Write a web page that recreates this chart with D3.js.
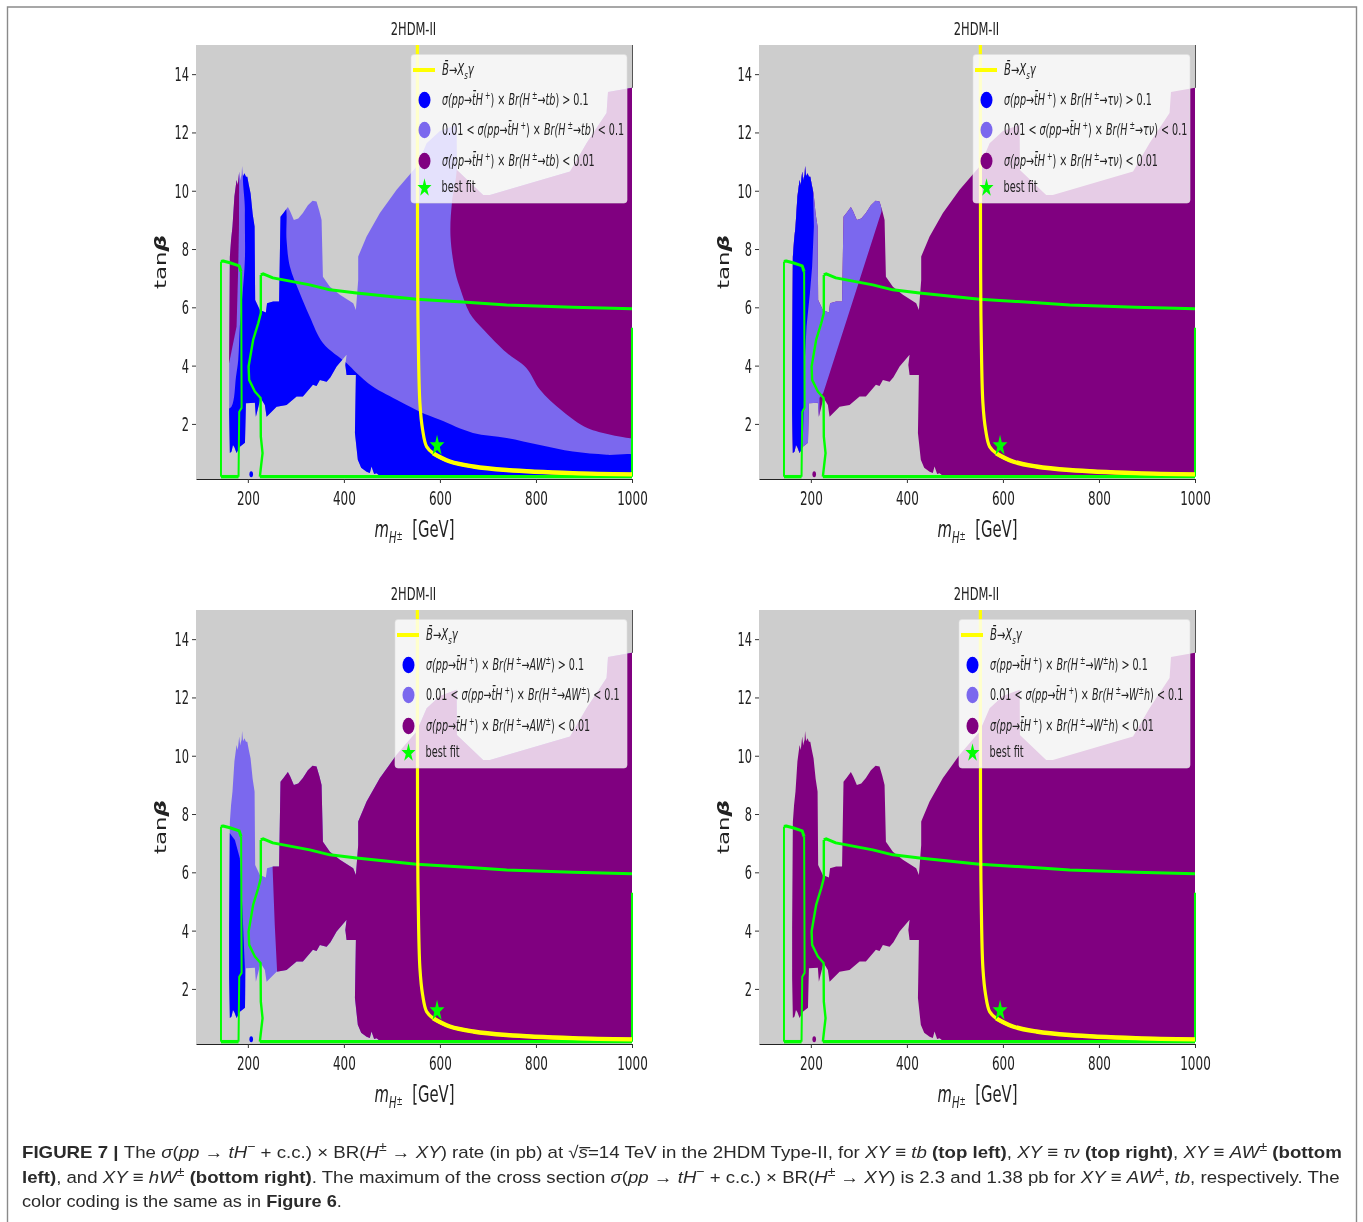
<!DOCTYPE html>
<html><head><meta charset="utf-8">
<style>html,body{margin:0;padding:0;background:#fff}svg{display:block;filter:blur(.45px)}text{white-space:pre}</style>
<script src="https://cdnjs.cloudflare.com/ajax/libs/d3/7.8.5/d3.min.js"></script>
</head><body><svg id="fig" width="1363" height="1222"></svg>
<script>
// ---------- values: [mass GeV, tan beta] ----------
const xTicks=[200,400,600,800,1000];
const yTicks=[2,4,6,8,10,12,14];
const xDomain=[92,1000], yDomain=[0.11,15];
const bestFit=[594,1.25];
const strayPoint=[207,0.27];

const regionOutline=[[161,2.38],[161,4.09],[162.5,7.73],[165,8.3],[168,8.77],[172,9.8],[176.5,10.37],[179,10.2],[182,10.66],[184,10.35],[185,10.44],[187,10.55],[188,10.85],[190,10.5],[193,10.6],[196,10.48],[198.8,10.48],[202,10.2],[205.6,9.91],[210,9.2],[214,8.77],[215.2,6.25],[225,5.91],[237.5,5.82],[240,6.14],[252.7,6.2],[265,6.2],[268,9.11],[275,9.25],[283.3,9.44],[288,9.3],[295.8,9.0],[305,9.05],[314.6,9.24],[325,9.5],[334.8,9.66],[343,9.63],[349,9.3],[353.5,9.0],[356.3,7.05],[370.8,6.71],[391.7,6.43],[419.4,6.14],[425,5.91],[429.8,6.94],[429.8,7.74],[447.3,8.43],[475,9.24],[509.8,10.03],[551.5,10.83],[572.3,11.63],[600,12.05],[634.8,12.26],[635.4,10.71],[690,9.85],[704,9.85],[871,10.66],[905.6,11.64],[947,12.67],[950,13.39],[1000,13.53],[1000,0.15],[480,0.15],[468,0.31],[463,0.28],[457.5,0.54],[454,0.32],[447.3,0.36],[436,0.5],[429,0.77],[423,1.69],[425,3.68],[405.6,3.68],[403,4.02],[405.6,4.37],[384.8,3.97],[372,3.6],[364,3.45],[350,3.51],[343,3.3],[335.5,3.34],[314.6,2.94],[301.5,2.94],[280.6,2.65],[259.8,2.59],[239,2.25],[235.4,2.65],[226.5,2.89],[216.7,2.25],[214.6,2.73],[196,2.71],[194,1.35],[183.3,1.22],[176.5,1.0],[172,1.2],[169,1.28],[166,1.05],[162.5,1.0]];

const tbPurple=[[635,16],[635,10.71],[625,9.6],[622,8.45],[632,7.2],[643,6.6],[662,5.8],[690,5.25],[739,4.44],[780,3.92],[808,3.18],[855,2.44],[908,1.85],[1000,1.5],[1010,1.5],[1010,16]];
const tbBlue=[[150,0],[150,2.4],[166,2.6],[175.3,3.62],[180,4.2],[183.3,5.34],[189,6.49],[193.8,7.63],[193.8,9.34],[196,10.9],[240,10.9],[266,9.5],[277,9.5],[280.6,8.31],[287.5,7.4],[308,6.49],[329,5.68],[356.3,4.78],[405.6,4.09],[426.4,3.75],[460,3.28],[516.7,2.77],[558.3,2.42],[600,2.14],[668.8,1.69],[739,1.52],[808,1.28],[877,1.05],[947,0.94],[1010,0.88],[1010,0]];
const tbPurpleLobe=[[150,4.09],[161,4.09],[176.5,5.34],[180,7.4],[181.5,8.77],[182,11],[150,11]];

const tauBlue=[[150,0],[150,12],[204.8,12],[204.8,9.92],[206.3,8.77],[202.7,7.4],[198,6.48],[191,5.34],[187.5,4.2],[186,3.05],[182.7,1.1],[182.7,0]];
const tauLavender=[[150,0],[150,16],[360,16],[347,9.28],[225.7,3.05],[218,2.9],[218,2],[225,2],[225,0]];

const awPurple=[[250,16],[1010,16],[1010,0],[261,0],[261,2.57],[256,4.2],[251.5,6.16]];
const awBlue=[[150,0],[150,7.34],[162.5,7.34],[173,7.11],[183.3,6.48],[187,5.34],[190,4.2],[193.8,2.72],[196,0]];

const bsgCurve=[[553,15],[553.5,7.28],[554.8,4.99],[558.3,2.71],[564,1.79],[572.3,1.22],[586,0.99],[620.8,0.71],[669.4,0.54],[739,0.42],[877,0.31],[1000,0.27]];
const bsgTail=[[586,0.99],[620.8,0.71],[669.4,0.54],[739,0.42],[877,0.31],[1000,0.27]];
const greenLeftTop=[[144,7.57],[148.6,7.59],[162.5,7.53],[182,7.42],[186,7.22]];
const greenLeftSides=[[144,0.19],[144,7.57]];
const greenLeftReturn=[[186,7.22],[187,2.55],[182,2.42],[180.6,0.19]];
const greenBottomA=[[144,0.19],[180.6,0.19]];
const greenBottomB=[[225,0.19],[1000,0.19]];
const greenEdge=[[1000,5.3],[1000,0.19]];
const greenSquiggle=[[225,0.19],[227.7,0.59],[230.6,1.0],[227,1.56],[226.5,2.89],[214.6,3.11],[202.7,3.51],[201.5,3.97],[211,4.88],[221.5,5.45],[227,5.8],[227,7.11]];
const greenTop=[[227,7.11],[232,7.15],[252,7.01],[329,6.77],[370.8,6.6],[426.4,6.49],[551.4,6.28],[655.6,6.17],[739,6.08],[877,6],[1000,5.95]];

const titleText="2HDM-II";
const colBlue="#0000ff",colLav="#7b68ee",colPurple="#800080",colGreen="#00ff00",colYellow="#ffff00",colBg="#cdcdcd";

const panels=[
 {dx:0,dy:0,channel:["i","tb"],legendX:411,base:colLav,stray:colBlue,layers:[[tbPurple,colPurple,true],[tbBlue,colBlue,true],[tbPurpleLobe,colPurple,false]]},
 {dx:563,dy:0,channel:["i","τν"],legendX:973,base:colPurple,stray:colPurple,layers:[[tauLavender,colLav,false],[tauBlue,colBlue,false]]},
 {dx:0,dy:565,channel:["i","AW"],sup:true,legendX:395,base:colLav,stray:colBlue,layers:[[awPurple,colPurple,false],[awBlue,colBlue,false]]},
 {dx:563,dy:565,channel:["i","W"],sup:true,after:"h",legendX:959,base:colPurple,stray:colPurple,layers:[]}
];

const caption=[
 {w:1320,segs:[["FIGURE 7 | ","b"],["The ",""],["σ","i"],["(",""],["pp","i"],[" → ",""],["tH","i"],["−","sup"],[" + c.c.) × BR(",""],["H","i"],["±","sup"],[" → ",""],["XY","i"],[") rate (in pb) at √",""],["s̅","i"],["=14 TeV in the 2HDM Type-II, for ",""],["XY","i"],[" ≡ ",""],["tb","i"],[" (top left)","b"],[", ",""],["XY","i"],[" ≡ ",""],["τν","i"],[" (top right)","b"],[", ",""],["XY","i"],[" ≡ ",""],["AW","i"],["±","sup"],[" (bottom","b"]]},
 {w:1318,segs:[["left)","b"],[", and ",""],["XY","i"],[" ≡ ",""],["hW","i"],["±","sup"],[" (bottom right)","b"],[". The maximum of the cross section ",""],["σ","i"],["(",""],["pp","i"],[" → ",""],["tH","i"],["−","sup"],[" + c.c.) × BR(",""],["H","i"],["±","sup"],[" → ",""],["XY","i"],[") is 2.3 and 1.38 pb for ",""],["XY","i"],[" ≡ ",""],["AW","i"],["±","sup"],[", ",""],["tb","i"],[", respectively. The",""]]},
 {w:320,segs:[["color coding is the same as in ",""],["Figure 6","b"],[".",""]]}
];

// ---------- drawing ----------
const svg=d3.select("#fig");
const mono='"DejaVu Sans"';
function rich(parent,x,y,segs,size,k,anchor,opts={}){
  const t=parent.append("text").attr("transform",`translate(${x},${y}) ${opts.rotate?`scale(${k},1) rotate(-90)`:`scale(${k},1)`}`)
    .attr("font-size",size).attr("text-anchor",anchor||"start").attr("font-family",opts.font||mono).attr("fill",opts.fill||"#222");
  let off=0;
  segs.forEach(([s,st])=>{
    const target=st==="mid"?0.12:/sup/.test(st)?-0.42:/sub/.test(st)?0.25:0;
    const ts=t.append("tspan").text(s).attr("dy",(target-off)*size+"px");
    off=target;
    if(st==="i"||st==="ib"||st==="isub")ts.attr("font-style","italic");
    if(st==="b"||st==="ib")ts.attr("font-weight","bold");
    if(/sup|sub/.test(st))ts.attr("font-size",size*(opts.scriptScale||0.68));
    if(st==="mid")ts.attr("font-size",size*0.5);
  });
  return t;
}
panels.forEach((p,i)=>{
  const L=196+p.dx,R=632+p.dx,T=45+p.dy,B=479+p.dy;
  const x=d3.scaleLinear().domain(xDomain).range([L,R]);
  const y=d3.scaleLinear().domain(yDomain).range([B,T]);
  const line=d3.line().x(d=>x(d[0])).y(d=>y(d[1]));
  const smooth=d3.line().x(d=>x(d[0])).y(d=>y(d[1])).curve(d3.curveCatmullRom.alpha(.5));
  const g=svg.append("g");
  g.append("rect").attr("x",L).attr("y",T).attr("width",R-L).attr("height",B-T).attr("fill",colBg);
  const clipId="clip"+i, frameId="frame"+i;
  g.append("clipPath").attr("id",clipId).append("path").attr("d",line(regionOutline)+"Z");
  g.append("clipPath").attr("id",frameId).append("rect").attr("x",L).attr("y",T-1).attr("width",R-L+1).attr("height",B-T+1);
  g.append("path").attr("d",line(regionOutline)+"Z").attr("fill",p.base);
  const lay=g.append("g").attr("clip-path",`url(#${clipId})`);
  p.layers.forEach(([poly,c,s])=>lay.append("path").attr("d",(s?smooth:line)(poly)+"Z").attr("fill",c));
  g.append("ellipse").attr("cx",x(strayPoint[0])).attr("cy",y(strayPoint[1])).attr("rx",1.8).attr("ry",3).attr("fill",p.stray);
  // spines
  g.append("line").attr("x1",R+.5).attr("x2",R+.5).attr("y1",T).attr("y2",y(13.53)).attr("stroke","#555");
  // axes
  const ax=d3.axisBottom(x).tickValues(xTicks).tickFormat(d3.format("d")).tickSize(4).tickSizeOuter(0);
  const ay=d3.axisLeft(y).tickValues(yTicks).tickFormat(d3.format("d")).tickSize(4).tickSizeOuter(0);
  const gx=g.append("g").attr("transform",`translate(0,${B})`).call(ax);
  gx.select(".domain").attr("stroke","#222").attr("stroke-width",1.2);
  gx.selectAll(".tick line").attr("stroke","#333");
  gx.selectAll(".tick text").attr("font-size",20).attr("font-family",mono).attr("fill","#222").attr("y",12).attr("transform","scale(.6,1)");
  gx.selectAll(".tick").each(function(){d3.select(this).select("text").attr("x",0);});
  const gy=g.append("g").attr("transform",`translate(${L},0)`).call(ay);
  gy.select(".domain").remove();
  gy.selectAll(".tick line").attr("stroke","#333");
  gy.selectAll(".tick text").attr("font-size",20).attr("font-family",mono).attr("fill","#222").attr("x",-7/.57).attr("transform","scale(.57,1)");
  // title & labels
  rich(g,(L+R)/2-.5,T-10,[[titleText,""]],18.5,.62,"middle");
  rich(g,(L+R)/2+.5,B+58,[["m","i"],["H","isub"],["±","mid"],["  [GeV]",""]],23.5,.63,"middle");
  rich(g,L-30,(T+B)/2,[["tan",""],["β","ib"]],23,.72,"middle",{rotate:true});
  // curves
  const curves=g.append("g").attr("clip-path",`url(#${frameId})`).attr("fill","none").attr("stroke-linejoin","round");
  [[greenLeftSides,2],[greenLeftReturn,2],[greenEdge,2],[greenSquiggle,2.4],[greenLeftTop,3],[greenTop,3],[greenBottomA,3.4],[greenBottomB,3.4]]
    .forEach(([d,w])=>curves.append("path").attr("d",line(d)).attr("stroke",colGreen).attr("stroke-width",w));
  curves.append("path").attr("d",smooth(bsgCurve)).attr("stroke",colYellow).attr("stroke-width",3.2);
  curves.append("path").attr("d",smooth(bsgTail)).attr("stroke",colYellow).attr("stroke-width",4.4);
  g.append("path").attr("d",d3.symbol().type(d3.symbolStar).size(105)()).attr("transform",`translate(${x(bestFit[0])},${y(bestFit[1])}) scale(.8,1.15)`).attr("fill",colGreen);
  // legend
  const lx=p.legendX, rx=R-5, ly=T+9.5;
  const lg=g.append("g");
  lg.append("rect").attr("x",lx).attr("y",ly).attr("width",rx-lx).attr("height",148.5).attr("rx",3).attr("fill","#fff").attr("fill-opacity",.8).attr("stroke","#ddd").attr("stroke-opacity",.6);
  const tx=lx+31,cx=lx+13.5;
  lg.append("line").attr("x1",lx+2).attr("x2",lx+24).attr("y1",T+25).attr("y2",T+25).attr("stroke",colYellow).attr("stroke-width",4);
  rich(lg,tx,T+30,[["B̄→X","i"],["s","isub"],["γ","i"]],15.5,.65);
  const ch=[[p.channel[1],"i"]];
  if(p.sup)ch.push(["±","sup"]);
  if(p.after)ch.push([p.after,"i"]);
  const core=[["σ(pp→t̄H","i"],[" +","sup"],[") × ",""],["Br(H","i"],[" ±","sup"],["→","i"],...ch,[")",""]];
  const rows=[[[...core,[" > 0.1",""]],colBlue,55],[[["0.01 < ",""],...core,[" < 0.1",""]],colLav,85],[[...core,[" < 0.01",""]],colPurple,116]];
  rows.forEach(([s,c,dy])=>{
    lg.append("ellipse").attr("cx",cx).attr("cy",T+dy).attr("rx",6).attr("ry",8.2).attr("fill",c);
    rich(lg,tx,T+dy+5,s,15.5,.62);
  });
  lg.append("path").attr("d",d3.symbol().type(d3.symbolStar).size(95)()).attr("transform",`translate(${cx},${T+143}) scale(.8,1.05)`).attr("fill",colGreen);
  rich(lg,tx-.5,T+147,[["best fit",""]],15.5,.63);
});
// caption & frame
const cap=svg.append("g");
caption.forEach((l,i)=>{
  const t=rich(cap,22,[1158,1183,1207][i],l.segs,17,1,"start",{font:'"Liberation Sans"',fill:"#2a2a2a",scriptScale:.75});
  const w=t.node().getComputedTextLength();
  t.attr("transform",`translate(22,${[1158,1183,1207][i]}) scale(${l.w/w},1)`);
});
svg.append("path").attr("d","M7.5,1222V7H1356.5V1222").attr("fill","none").attr("stroke","#8a8a8a").attr("stroke-width",1.4);
</script></body></html>
